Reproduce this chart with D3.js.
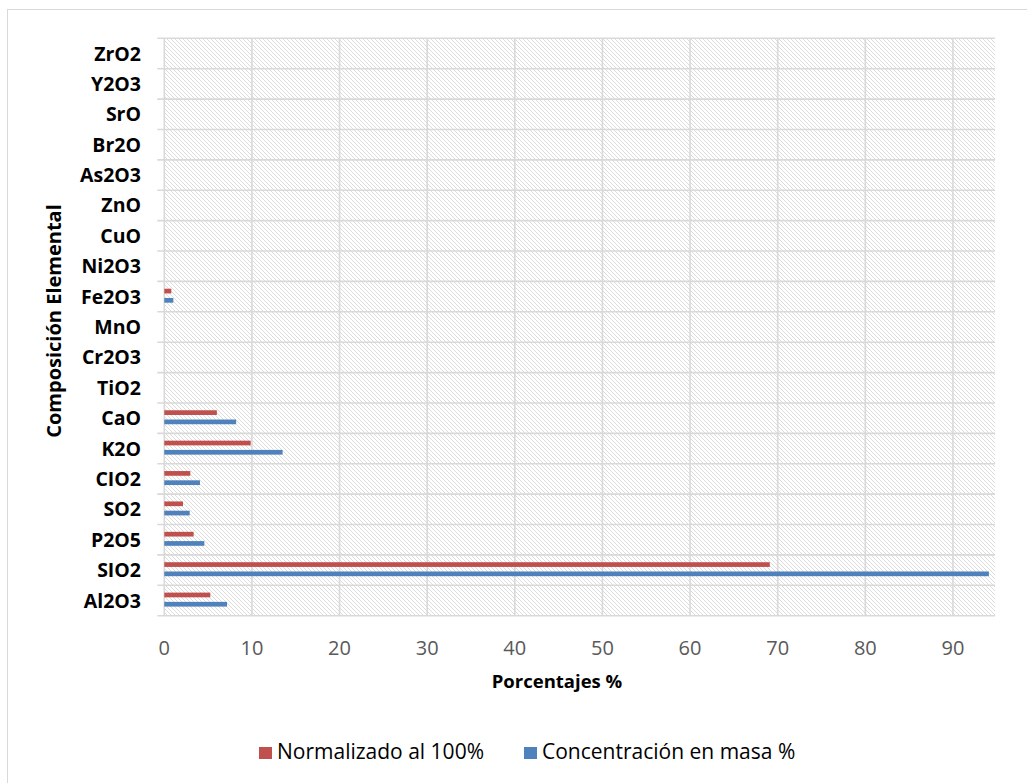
<!DOCTYPE html>
<html>
<head>
    <meta charset="utf-8">
    <script src="https://d3js.org/d3.v7.min.js"></script>
    <style>
        body { margin: 0; background: #fff; }
        svg { display: block; font-family: "Open Sans", Lato, sans-serif; }
    </style>
</head>
<body>
    <svg id="chart" width="1027" height="783"></svg>
    <script>
        // categories bottom -> top
        const categories = ["Al2O3", "SIO2", "P2O5", "SO2", "CIO2", "K2O", "CaO", "TiO2", "Cr2O3", "MnO",
            "Fe2O3", "Ni2O3", "CuO", "ZnO", "As2O3", "Br2O", "SrO", "Y2O3", "ZrO2"];
        const normalizado = [5.25, 69.1, 3.35, 2.13, 2.97, 9.86, 6.0, 0, 0, 0, 0.8, 0, 0, 0, 0, 0, 0, 0, 0];
        const concentracion = [7.16, 94.1, 4.57, 2.9, 4.07, 13.5, 8.2, 0, 0, 0, 1.03, 0, 0, 0, 0, 0, 0, 0, 0];
        const xTicks = [0, 10, 20, 30, 40, 50, 60, 70, 80, 90];
        const seriesNames = ["Normalizado al 100%", "Concentración en masa %"];
        const seriesColors = ["#c0504d", "#4f81bd"];

        const svg = d3.select("#chart");
        const plotLeft = 164.3, plotRight = 995, plotTop = 38.3, plotBottom = 615.7;

        const x = d3.scaleLinear().domain([0, 94.8]).range([plotLeft, plotRight]);
        const y = d3.scaleBand().domain(categories.slice().reverse()).range([plotTop, plotBottom]).padding(0);
        const bw = y.bandwidth();

        // outer chart border (right/bottom edges fall outside the frame)
        svg.append("rect")
            .attr("x", 7.5).attr("y", 9.5)
            .attr("width", 1040).attr("height", 800)
            .attr("fill", "none")
            .attr("stroke", "#d9d9d9")
            .attr("stroke-width", 1);

        // hatch pattern for plot area
        const defs = svg.append("defs");
        const pat = defs.append("pattern")
            .attr("id", "hatch")
            .attr("patternUnits", "userSpaceOnUse")
            .attr("width", 4).attr("height", 4);
        pat.append("rect").attr("width", 4).attr("height", 4).attr("fill", "#fff");
        pat.append("path")
            .attr("d", "M0,0 L4,4 M-1,3 L1,5 M3,-1 L5,1")
            .attr("stroke", "#dcdcdc")
            .attr("stroke-width", 1);

        svg.append("rect")
            .attr("x", plotLeft).attr("y", plotTop)
            .attr("width", plotRight - plotLeft).attr("height", plotBottom - plotTop)
            .attr("fill", "url(#hatch)");

        // vertical gridlines
        svg.append("g")
            .selectAll("line")
            .data(xTicks)
            .join("line")
            .attr("x1", d => x(d)).attr("x2", d => x(d))
            .attr("y1", plotTop).attr("y2", plotBottom)
            .attr("stroke", "#d9d9d9")
            .attr("stroke-width", 1.6);

        // horizontal lines between categories (with small tick outside)
        const bounds = categories.map(c => y(c)).concat([plotBottom]);
        svg.append("g")
            .selectAll("line")
            .data(bounds)
            .join("line")
            .attr("x1", plotLeft - 7).attr("x2", plotRight)
            .attr("y1", d => d).attr("y2", d => d)
            .attr("stroke", "#d9d9d9")
            .attr("stroke-width", 1.6);

        // bars
        const bars = svg.append("g");
        bars.selectAll(".red")
            .data(categories)
            .join("rect")
            .attr("class", "red")
            .attr("x", x(0))
            .attr("y", d => y(d) + bw * 0.24)
            .attr("width", (d, i) => x(normalizado[i]) - x(0))
            .attr("height", bw * 0.155)
            .attr("fill", seriesColors[0]);
        bars.selectAll(".blue")
            .data(categories)
            .join("rect")
            .attr("class", "blue")
            .attr("x", x(0))
            .attr("y", d => y(d) + bw * 0.545)
            .attr("width", (d, i) => x(concentracion[i]) - x(0))
            .attr("height", bw * 0.155)
            .attr("fill", seriesColors[1]);

        // category labels
        svg.append("g")
            .selectAll("text")
            .data(categories)
            .join("text")
            .attr("x", 141)
            .attr("y", d => y(d) + bw / 2)
            .attr("dy", "0.36em")
            .attr("text-anchor", "end")
            .attr("font-size", 19.5)
            .attr("font-weight", "bold")
            .attr("fill", "#000")
            .text(d => d);

        // x tick labels
        svg.append("g")
            .selectAll("text")
            .data(xTicks)
            .join("text")
            .attr("x", d => x(d))
            .attr("y", 655)
            .attr("text-anchor", "middle")
            .attr("font-size", 20)
            .attr("fill", "#595959")
            .text(d => d);

        // axis titles
        svg.append("text")
            .attr("x", 557).attr("y", 688)
            .attr("text-anchor", "middle")
            .attr("font-size", 18.5)
            .attr("font-weight", "bold")
            .text("Porcentajes %");

        svg.append("text")
            .attr("transform", "translate(61,321) rotate(-90)")
            .attr("text-anchor", "middle")
            .attr("font-size", 20)
            .attr("font-weight", "bold")
            .text("Composición Elemental");

        // legend
        const legendX = [259, 524];
        const legend = svg.append("g");
        seriesNames.forEach((name, i) => {
            legend.append("rect")
                .attr("x", legendX[i]).attr("y", 747)
                .attr("width", 13).attr("height", 12)
                .attr("fill", seriesColors[i]);
            legend.append("text")
                .attr("x", legendX[i] + 18).attr("y", 759)
                .attr("font-size", 21)
                .attr("fill", "#000")
                .text(name);
        });
    </script>
</body>
</html>
